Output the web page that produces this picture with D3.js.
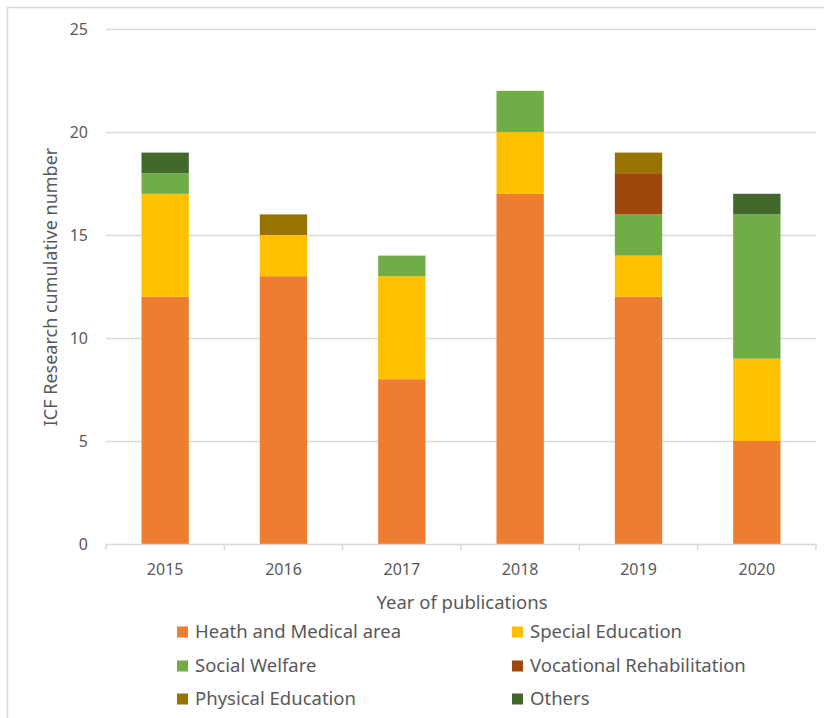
<!DOCTYPE html>
<html>
<head>
<meta charset="utf-8">
<script src="https://cdn.jsdelivr.net/npm/d3@7"></script>
<style>
  body { margin: 0; background: #fff; }
  svg { font-family: "Noto Sans", "Open Sans", sans-serif; }
</style>
</head>
<body>
<svg id="chart" width="824" height="718"></svg>
<script>
const years = ['2015', '2016', '2017', '2018', '2019', '2020'];
const seriesNames = ['Heath and Medical area', 'Special Education', 'Social Welfare',
                     'Vocational Rehabilitation', 'Physical Education', 'Others'];
const seriesColors = ['#ED7D31', '#FFC000', '#70AD47', '#9E480E', '#997300', '#43682B'];
const health = [12, 13, 8, 17, 12, 5];
const special = [5, 2, 5, 3, 2, 4];
const social = [1, 0, 1, 2, 2, 7];
const vocational = [0, 0, 0, 0, 2, 0];
const physical = [0, 1, 0, 0, 1, 0];
const others = [1, 0, 0, 0, 0, 1];
const yTicks = [0, 5, 10, 15, 20, 25];

const seriesValues = [health, special, social, vocational, physical, others];
const rows = years.map((y, i) => {
    const r = { year: y };
    seriesNames.forEach((s, k) => r[s] = seriesValues[k][i]);
    return r;
});

const svg = d3.select('#chart');
const textColor = '#595959';
const gridColor = '#d9d9d9';

// outer frame (cut off at right/bottom like the source)
svg.append('rect').attr('x', 7.5).attr('y', 7.5).attr('width', 840).attr('height', 740)
    .attr('fill', 'none').attr('stroke', gridColor).attr('stroke-width', 1.5);

const x = d3.scaleBand().domain(years).range([106, 816]).paddingInner(0.6).paddingOuter(0.3);
const xb = d3.scaleBand().domain(years).range([106, 816]);
const y = d3.scaleLinear().domain([0, 25]).range([544, 29]);

// gridlines
svg.append('g').selectAll('line').data(yTicks.filter(t => t > 0)).enter().append('line')
    .attr('x1', 106).attr('x2', 816)
    .attr('y1', d => Math.round(y(d)) + 0.5).attr('y2', d => Math.round(y(d)) + 0.5)
    .attr('stroke', gridColor).attr('stroke-width', 1.5);

// y tick labels
svg.append('g').selectAll('text').data(yTicks).enter().append('text')
    .attr('x', 88).attr('y', d => y(d)).attr('dy', '0.35em')
    .attr('text-anchor', 'end').attr('fill', textColor).attr('font-size', 16)
    .text(d => d);

// bars
const stack = d3.stack().keys(seriesNames)(rows);
svg.append('g').selectAll('g').data(stack).enter().append('g')
    .attr('fill', (d, i) => seriesColors[i])
    .selectAll('rect').data(d => d.filter(p => p[1] > p[0])).enter().append('rect')
    .attr('x', d => x(d.data.year))
    .attr('width', x.bandwidth())
    .attr('y', d => y(d[1]))
    .attr('height', d => y(d[0]) - y(d[1]));

// x axis
const xAxis = svg.append('g');
xAxis.append('line').attr('x1', 106).attr('x2', 816).attr('y1', 544.5).attr('y2', 544.5)
    .attr('stroke', gridColor).attr('stroke-width', 1.5);
const bounds = years.map(yv => xb(yv)).concat([816]);
xAxis.selectAll('line.tick').data(bounds).enter().append('line').attr('class', 'tick')
    .attr('x1', d => d).attr('x2', d => d).attr('y1', 544).attr('y2', 550)
    .attr('stroke', gridColor).attr('stroke-width', 1.5);
xAxis.selectAll('text').data(years).enter().append('text')
    .attr('x', d => xb(d) + xb.bandwidth() / 2).attr('y', 569).attr('dy', '0.35em')
    .attr('text-anchor', 'middle').attr('fill', textColor).attr('font-size', 16)
    .text(d => d);

// axis titles
svg.append('text').attr('x', 462).attr('y', 603).attr('dy', '0.35em')
    .attr('text-anchor', 'middle').attr('fill', textColor).attr('font-size', 18.5)
    .text('Year of publications');
svg.append('text').attr('transform', 'translate(51,287) rotate(-90)').attr('dy', '0.35em')
    .attr('text-anchor', 'middle').attr('fill', textColor).attr('font-size', 18)
    .text('ICF Research cumulative number');

// legend
const legendCols = [177, 512];
const legendRows = [632, 666, 699];
const legend = svg.append('g').selectAll('g').data(seriesNames).enter().append('g')
    .attr('transform', (d, i) => `translate(${legendCols[i % 2]},${legendRows[Math.floor(i / 2)]})`);
legend.append('rect').attr('x', 0).attr('y', -5.5).attr('width', 11).attr('height', 11)
    .attr('fill', (d, i) => seriesColors[i]);
legend.append('text').attr('x', 18).attr('dy', '0.35em')
    .attr('fill', textColor).attr('font-size', 18.5).text(d => d);
</script>
</body>
</html>
